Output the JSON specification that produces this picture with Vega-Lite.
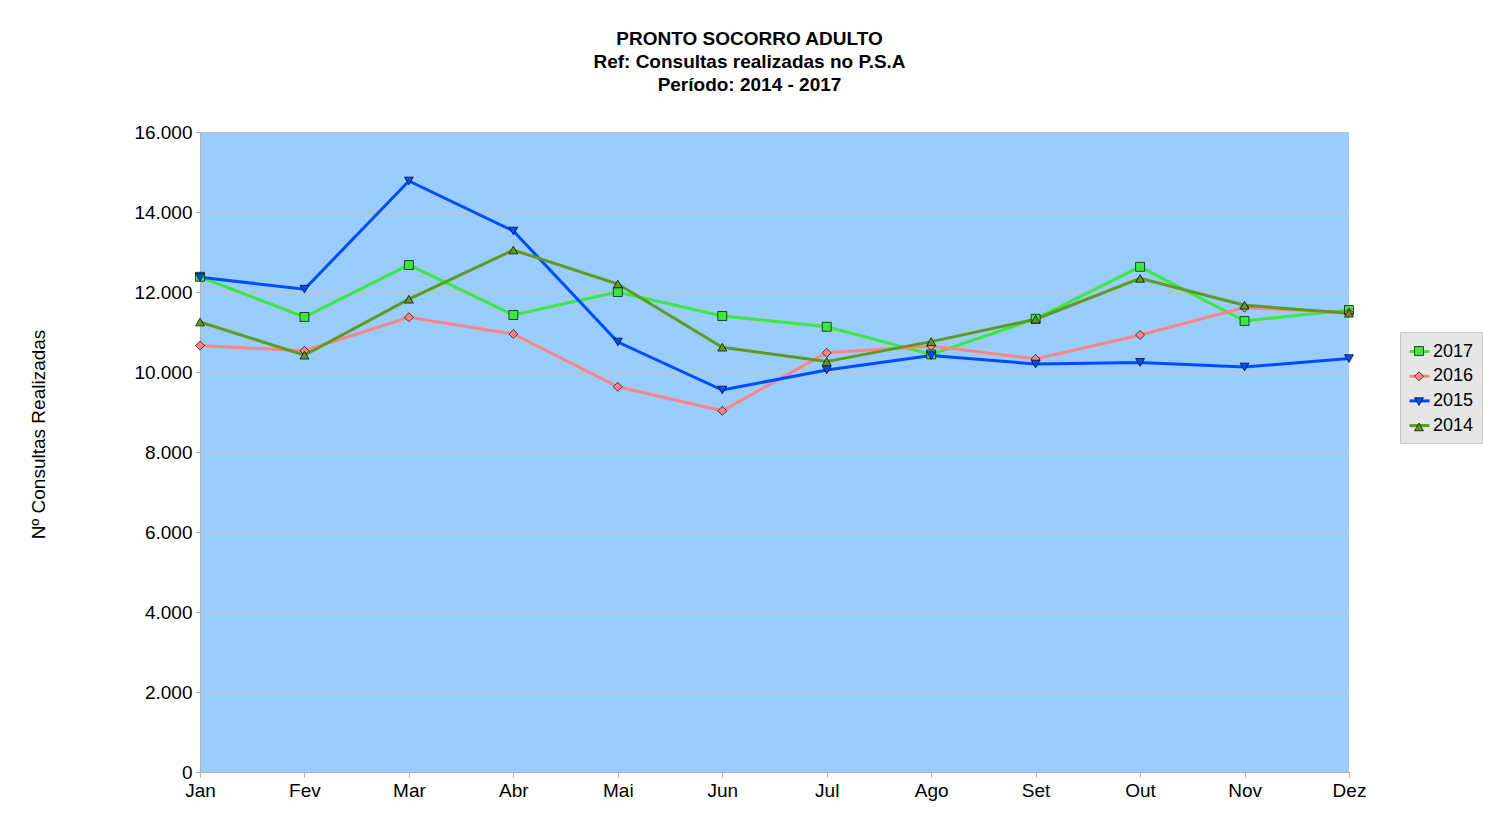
{
  "$schema": "https://vega.github.io/schema/vega-lite/v6.json",
  "width": 1149,
  "height": 640,
  "autosize": {"type": "none"},
  "padding": {"left": 200, "top": 132, "right": 145, "bottom": 41},
  "background": "white",
  "title": {
    "text": ["PRONTO SOCORRO ADULTO", "Ref: Consultas realizadas no P.S.A", "Período: 2014 - 2017"],
    "font": "Liberation Sans",
    "fontSize": 19,
    "fontWeight": "bold",
    "lineHeight": 23,
    "anchor": "middle",
    "dx": -25,
    "offset": 28,
    "color": "black"
  },
  "config": {
    "font": "Liberation Sans",
    "view": {"fill": "#99ccff", "stroke": null},
    "locale": {"number": {"decimal": ",", "thousands": ".", "grouping": [3], "currency": ["R$", ""]}},
    "axis": {
      "labelFont": "Liberation Sans",
      "labelFontSize": 19,
      "labelColor": "black",
      "domainColor": "#b3b3b3",
      "tickColor": "#b3b3b3",
      "tickSize": 5,
      "gridColor": "#c4c4c4",
      "gridWidth": 1
    }
  },
  "data": {
    "values": [
      {"mes": "Jan", "ano": "2017", "valor": 12380},
      {"mes": "Fev", "ano": "2017", "valor": 11375},
      {"mes": "Mar", "ano": "2017", "valor": 12675},
      {"mes": "Abr", "ano": "2017", "valor": 11425},
      {"mes": "Mai", "ano": "2017", "valor": 12000},
      {"mes": "Jun", "ano": "2017", "valor": 11400},
      {"mes": "Jul", "ano": "2017", "valor": 11130},
      {"mes": "Ago", "ano": "2017", "valor": 10440},
      {"mes": "Set", "ano": "2017", "valor": 11330},
      {"mes": "Out", "ano": "2017", "valor": 12630},
      {"mes": "Nov", "ano": "2017", "valor": 11275},
      {"mes": "Dez", "ano": "2017", "valor": 11550},
      {"mes": "Jan", "ano": "2016", "valor": 10660},
      {"mes": "Fev", "ano": "2016", "valor": 10530},
      {"mes": "Mar", "ano": "2016", "valor": 11370},
      {"mes": "Abr", "ano": "2016", "valor": 10950},
      {"mes": "Mai", "ano": "2016", "valor": 9630},
      {"mes": "Jun", "ano": "2016", "valor": 9030},
      {"mes": "Jul", "ano": "2016", "valor": 10480},
      {"mes": "Ago", "ano": "2016", "valor": 10650},
      {"mes": "Set", "ano": "2016", "valor": 10325},
      {"mes": "Out", "ano": "2016", "valor": 10925},
      {"mes": "Nov", "ano": "2016", "valor": 11610},
      {"mes": "Dez", "ano": "2016", "valor": 11480},
      {"mes": "Jan", "ano": "2015", "valor": 12370},
      {"mes": "Fev", "ano": "2015", "valor": 12070},
      {"mes": "Mar", "ano": "2015", "valor": 14775},
      {"mes": "Abr", "ano": "2015", "valor": 13525},
      {"mes": "Mai", "ano": "2015", "valor": 10750},
      {"mes": "Jun", "ano": "2015", "valor": 9550},
      {"mes": "Jul", "ano": "2015", "valor": 10050},
      {"mes": "Ago", "ano": "2015", "valor": 10410},
      {"mes": "Set", "ano": "2015", "valor": 10200},
      {"mes": "Out", "ano": "2015", "valor": 10240},
      {"mes": "Nov", "ano": "2015", "valor": 10125},
      {"mes": "Dez", "ano": "2015", "valor": 10335},
      {"mes": "Jan", "ano": "2014", "valor": 11250},
      {"mes": "Fev", "ano": "2014", "valor": 10420},
      {"mes": "Mar", "ano": "2014", "valor": 11820},
      {"mes": "Abr", "ano": "2014", "valor": 13050},
      {"mes": "Mai", "ano": "2014", "valor": 12200},
      {"mes": "Jun", "ano": "2014", "valor": 10620},
      {"mes": "Jul", "ano": "2014", "valor": 10260},
      {"mes": "Ago", "ano": "2014", "valor": 10760},
      {"mes": "Set", "ano": "2014", "valor": 11320},
      {"mes": "Out", "ano": "2014", "valor": 12340},
      {"mes": "Nov", "ano": "2014", "valor": 11670},
      {"mes": "Dez", "ano": "2014", "valor": 11470}
    ]
  },
  "encoding": {
    "x": {
      "field": "mes",
      "type": "ordinal",
      "sort": ["Jan", "Fev", "Mar", "Abr", "Mai", "Jun", "Jul", "Ago", "Set", "Out", "Nov", "Dez"],
      "scale": {"type": "point", "padding": 0},
      "axis": {"title": null, "labelAngle": 0, "grid": false, "labelPadding": 4}
    },
    "y": {
      "field": "valor",
      "type": "quantitative",
      "scale": {"domain": [0, 16000], "nice": false},
      "axis": {
        "title": "Nº Consultas Realizadas",
        "values": [0, 2000, 4000, 6000, 8000, 10000, 12000, 14000, 16000],
        "format": ",d",
        "labelPadding": 3,
        "titleFont": "Liberation Sans",
        "titleFontSize": 19,
        "titleFontWeight": "normal",
        "titleColor": "black",
        "titleX": -162,
        "titleY": 302,
        "titleAngle": 270,
        "titleAlign": "center",
        "titleBaseline": "middle"
      }
    }
  },
  "layer": [
    {
      "mark": {"type": "line", "strokeWidth": 3},
      "encoding": {
        "color": {
          "field": "ano",
          "type": "nominal",
          "scale": {"domain": ["2017", "2016", "2015", "2014"], "range": ["#3fe63f", "#ff8585", "#004dff", "#5e9a1e"]},
          "legend": {
            "title": null,
            "orient": "none",
            "legendX": 1200,
            "legendY": 200,
            "symbolType": "stroke",
            "symbolSize": 400,
            "symbolStrokeWidth": 3,
            "fillColor": "#e6e6e6",
            "strokeColor": "#c8c8c8",
            "padding": 8,
            "labelFont": "Liberation Sans",
            "labelFontSize": 18,
            "labelColor": "black",
            "labelOffset": 2,
            "rowPadding": 3.7,
            "zindex": 0
          }
        }
      }
    },
    {
      "mark": {"type": "point", "filled": true, "size": 80, "stroke": "black", "strokeWidth": 0.7, "opacity": 1},
      "encoding": {
        "fill": {
          "field": "ano",
          "type": "nominal",
          "sort": "descending",
          "scale": {"range": ["#3fe63f", "#ff8585", "#004dff", "#5e9a1e"]},
          "legend": {
            "title": null,
            "orient": "none",
            "legendX": 1202,
            "legendY": 202,
            "symbolSize": 80,
            "symbolStrokeColor": "black",
            "symbolStrokeWidth": 0.7,
            "padding": 8,
            "labelFont": "Liberation Sans",
            "labelFontSize": 18,
            "labelExpr": "' '",
            "labelOffset": 2,
            "rowPadding": 7.3,
            "zindex": 1
          }
        },
        "shape": {
          "field": "ano",
          "type": "nominal",
          "sort": "descending",
          "scale": {"range": ["square", "diamond", "triangle-down", "triangle-up"]}
        }
      }
    }
  ]
}
